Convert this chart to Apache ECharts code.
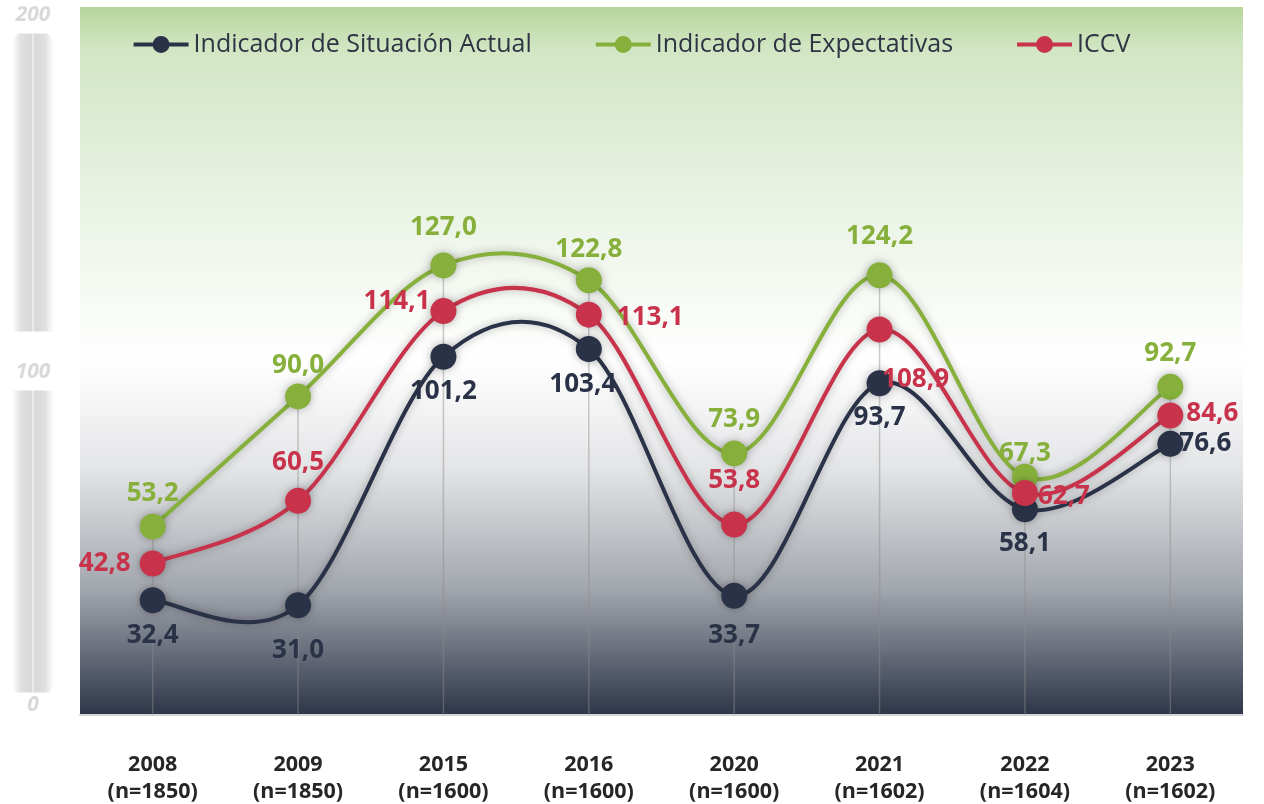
<!DOCTYPE html>
<html>
<head>
<meta charset="utf-8">
<script src="https://cdn.jsdelivr.net/npm/echarts@6/dist/echarts.min.js"></script>
<style>
html, body { margin: 0; padding: 0; background: #fff; }
#chart { width: 1264px; height: 804px; }
</style>
</head>
<body>
<div id="chart"></div>
<script>
var years = ['2008', '2009', '2015', '2016', '2020', '2021', '2022', '2023'];
var muestras = ['1850', '1850', '1600', '1600', '1600', '1602', '1604', '1602'];
var situacionActual = [32.4, 31.0, 101.2, 103.4, 33.7, 93.7, 58.1, 76.6];
var expectativas = [53.2, 90.0, 127.0, 122.8, 73.9, 124.2, 67.3, 92.7];
var iccv = [42.8, 60.5, 114.1, 113.1, 53.8, 108.9, 62.7, 84.6];
var yTicks = [0, 100, 200];

var categories = years.map(function (y, i) {
	return y + '\n(n=' + muestras[i] + ')';
});

// label placement per point: [position, distance, offset]
var navyPos = [['bottom', 9], ['bottom', 19], ['bottom', 9], ['bottom', 10, [-6, 0]], ['bottom', 14], ['bottom', 8], ['bottom', 8], ['right', -4]];
var greenPos = [['top', 7], ['top', 5], ['top', 12], ['top', 5], ['top', 8], ['top', 13], ['top', -3], ['top', 7]];
var redPos = [['left', 9], ['top', 12], ['left', 0, [0, -9]], ['right', 15, [0, 3]], ['top', 18], ['bottom', 4, [36, 20]], ['right', 0, [0, 4]], ['right', 3, [0, -2]]];

var font = 'Open Sans';
var legendIcon = 'path://M0,6.5 L55,6.5 L55,10.5 L0,10.5 Z M27.5,0 A8.5,8.5 0 1,1 27.5,17 A8.5,8.5 0 1,1 27.5,0 Z';

function fmt(v) {
	return v.toFixed(1).replace('.', ',');
}

function buildData(values, pos) {
	return values.map(function (v, i) {
		var p = pos[i];
		var lab = { position: p[0], distance: p[1] };
		if (p[2]) lab.offset = p[2];
		return { value: v, label: lab };
	});
}

// markers + labels
function pointSeries(name, values, pos, color) {
	return {
		name: name,
		type: 'line',
		symbol: 'circle',
		symbolSize: 26,
		data: buildData(values, pos),
		lineStyle: { opacity: 0 },
		itemStyle: {
			color: color,
			shadowColor: 'rgba(0,0,0,0.3)',
			shadowBlur: 8
		},
		label: {
			show: true,
			color: color,
			fontFamily: font,
			fontWeight: 'bold',
			fontSize: 26,
			formatter: function (p) { return fmt(p.value); }
		},
		z: 3
	};
}

// smooth curve (catmull-rom style, like the spreadsheet one)
function curveSeries(values, color) {
	return {
		name: 'curva-' + color,
		type: 'custom',
		silent: true,
		z: 2,
		data: values.map(function (v, i) { return [i, v]; }),
		renderItem: function (params, api) {
			if (params.dataIndex !== 0) return null;
			var pts = values.map(function (v, i) { return api.coord([i, v]); });
			var n = pts.length;
			var d = 'M' + pts[0][0] + ',' + pts[0][1];
			for (var i = 0; i < n - 1; i++) {
				var p0 = pts[Math.max(i - 1, 0)];
				var p1 = pts[i];
				var p2 = pts[i + 1];
				var p3 = pts[Math.min(i + 2, n - 1)];
				var c1x = p1[0] + (p2[0] - p0[0]) / 6;
				var c1y = p1[1] + (p2[1] - p0[1]) / 6;
				var c2x = p2[0] - (p3[0] - p1[0]) / 6;
				var c2y = p2[1] - (p3[1] - p1[1]) / 6;
				d += ' C' + c1x + ',' + c1y + ' ' + c2x + ',' + c2y + ' ' + p2[0] + ',' + p2[1];
			}
			return {
				type: 'path',
				shape: { pathData: d },
				style: {
					fill: 'none',
					stroke: color,
					lineWidth: 4,
					shadowColor: 'rgba(0,0,0,0.3)',
					shadowBlur: 8
				}
			};
		}
	};
}

var myChart = echarts.init(document.getElementById('chart'));

var yRich = {};
['t', 'm', 'z'].forEach(function (k) {
	yRich[k] = { fontFamily: font, fontStyle: 'italic', fontWeight: 'bold', fontSize: 21, color: '#d9d9d9', backgroundColor: '#fff' };
});
yRich.t.padding = [24, 18, 8, 18];
yRich.m.padding = [30, 18, 8, 18];
yRich.z.padding = [2, 18, 22, 18];

var option = {
	animation: false,
	// soft grey band behind the value axis
	graphic: [{
		type: 'rect',
		z: -10,
		silent: true,
		shape: { x: 12, y: 28, width: 42, height: 672, r: 20 },
		style: {
			fill: {
				type: 'linear', x: 0, y: 0, x2: 1, y2: 0,
				colorStops: [
					{ offset: 0, color: 'rgba(220,220,220,0)' },
					{ offset: 0.2, color: 'rgba(218,218,218,0.8)' },
					{ offset: 0.4, color: '#d9d9d9' },
					{ offset: 0.6, color: '#d9d9d9' },
					{ offset: 0.8, color: 'rgba(218,218,218,0.8)' },
					{ offset: 1, color: 'rgba(220,220,220,0)' }
				]
			}
		}
	}],
	legend: {
		data: [
			{ name: 'Indicador de Situación Actual', icon: legendIcon },
			{ name: 'Indicador de Expectativas', icon: legendIcon },
			{ name: 'ICCV', icon: legendIcon }
		],
		left: 'center',
		top: 27,
		itemWidth: 55,
		itemHeight: 17,
		itemGap: 64,
		textStyle: {
			fontFamily: font,
			fontSize: 25,
			color: '#2e3444'
		}
	},
	grid: {
		left: 80,
		right: 21,
		top: 7,
		bottom: 89,
		outerBoundsMode: 'none',
		show: true,
		borderWidth: 0,
		backgroundColor: {
			type: 'linear', x: 0, y: 0, x2: 0, y2: 1,
			colorStops: [
				{ offset: 0, color: '#b6d69c' },
				{ offset: 0.06, color: '#d2e6c4' },
				{ offset: 0.3, color: '#ecf4e7' },
				{ offset: 0.5, color: '#ffffff' },
				{ offset: 0.65, color: '#e4e5e7' },
				{ offset: 0.82, color: '#a3a7ae' },
				{ offset: 1, color: '#2d3548' }
			]
		}
	},
	xAxis: {
		type: 'category',
		data: categories,
		axisLine: { lineStyle: { color: '#d6d6d6', width: 2 } },
		axisTick: { show: false },
		splitLine: { show: false },
		axisLabel: {
			interval: 0,
			margin: 36,
			fontFamily: font,
			fontWeight: 'bold',
			fontSize: 21.5,
			lineHeight: 27,
			color: '#262626'
		}
	},
	yAxis: [
		{
			type: 'value',
			min: 0,
			max: 200,
			interval: 100,
			axisLine: { show: false },
			axisTick: { show: false },
			axisLabel: { show: false },
			splitLine: { show: false }
		},
		{
			type: 'value',
			min: 0,
			max: 200,
			interval: 100,
			position: 'left',
			offset: 47,
			z: 5,
			axisLine: {
				show: true,
				lineStyle: { color: '#efefef', width: 1.5 }
			},
			axisTick: { show: false },
			splitLine: { show: false },
			axisLabel: {
				margin: 0,
				align: 'center',
				formatter: function (v) {
					if (v === 0) return '{z|0}';
					if (v === 100) return '{m|100}';
					return '{t|' + v + '}';
				},
				rich: yRich
			}
		}
	],
	series: [
		{
			name: 'drop',
			type: 'bar',
			data: expectativas,
			barWidth: 1.5,
			silent: true,
			itemStyle: { color: 'rgba(140,140,140,0.45)' },
			z: 1
		},
		curveSeries(situacionActual, '#2a3247'),
		curveSeries(expectativas, '#86b03b'),
		curveSeries(iccv, '#c8334b'),
		pointSeries('Indicador de Situación Actual', situacionActual, navyPos, '#2a3247'),
		pointSeries('Indicador de Expectativas', expectativas, greenPos, '#86b03b'),
		pointSeries('ICCV', iccv, redPos, '#c8334b')
	]
};

myChart.setOption(option);
</script>
</body>
</html>
